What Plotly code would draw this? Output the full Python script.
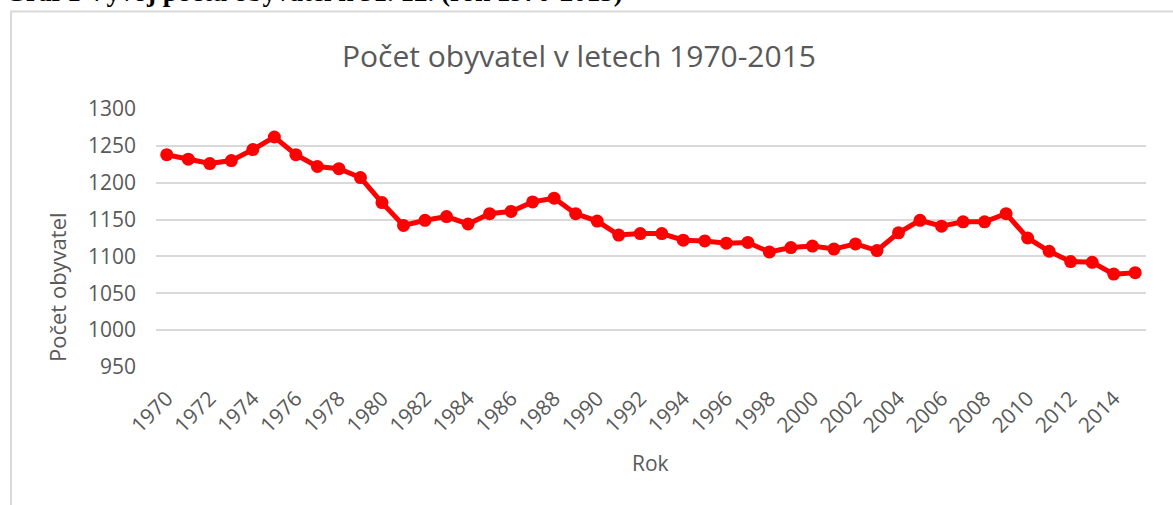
import plotly.graph_objects as go

years = list(range(1970, 2016))
population = [1238, 1232, 1226, 1230, 1245, 1262, 1238, 1222, 1219, 1207,
              1173, 1142, 1149, 1154, 1144, 1158, 1161, 1174, 1179, 1158,
              1148, 1129, 1131, 1131, 1122, 1121, 1118, 1119, 1106, 1112,
              1114, 1110, 1117, 1108, 1132, 1149, 1141, 1147, 1147, 1158,
              1125, 1107, 1093, 1092, 1076, 1078]
tick_years = list(range(1970, 2015, 2))
y_ticks = list(range(950, 1301, 50))

W, H = 1173, 505
L, R, T, B = 156, 27, 109, 138
pw, ph = W - L - R, H - T - B

def px(x):
    return (x - L) / pw

def py(y):
    return (H - B - y) / ph

grey = "#595959"
font_main = "Open Sans"

fig = go.Figure()
fig.add_trace(go.Scatter(
    x=years, y=population, mode="lines+markers",
    line=dict(color="#ff0000", width=5),
    marker=dict(color="#ff0000", size=13),
    showlegend=False,
))

fig.update_layout(
    width=W, height=H,
    margin=dict(l=L, r=R, t=T, b=B, pad=0),
    paper_bgcolor="white", plot_bgcolor="white",
    xaxis=dict(range=[1969.5, 2015.5], tickvals=tick_years,
               ticktext=[str(y) for y in tick_years], tickangle=-45,
               showgrid=False, zeroline=False, showline=False, ticks="",
               tickfont=dict(family=font_main, size=21, color=grey),
               ticklabelstandoff=14),
    yaxis=dict(range=[950, 1300], tickvals=y_ticks, showgrid=True,
               gridcolor="#d9d9d9", gridwidth=1.5, zeroline=False,
               showline=False, ticks="",
               tickfont=dict(family=font_main, size=21, color=grey),
               ticklabelstandoff=19),
    shapes=[dict(type="rect", xref="paper", yref="paper",
                 x0=px(11), x1=px(1400), y0=py(800), y1=py(11.5),
                 line=dict(color="#d9d9d9", width=2), layer="below")],
    annotations=[
        dict(text="Počet obyvatel v letech 1970-2015", xref="paper", yref="paper",
             x=px(579), y=py(55), xanchor="center", yanchor="middle",
             showarrow=False, font=dict(family=font_main, size=30, color=grey)),
        dict(text="Počet obyvatel", xref="paper", yref="paper",
             x=px(57), y=py(287), xanchor="center", yanchor="middle",
             textangle=-90, showarrow=False,
             font=dict(family=font_main, size=22, color=grey)),
        dict(text="Rok", xref="paper", yref="paper",
             x=px(650), y=py(463), xanchor="center", yanchor="middle",
             showarrow=False, font=dict(family=font_main, size=21, color=grey)),
        dict(text="<b>Graf 1 Vývoj počtu obyvatel k 31. 12. (rok 1970-2015)</b>",
             xref="paper", yref="paper", x=px(3), y=py(9),
             xanchor="left", yanchor="bottom", showarrow=False,
             font=dict(family="Liberation Serif", size=27, color="black")),
    ],
)

fig.write_html("out.html", config={"displayModeBar": False},
               post_script="document.body.style.margin='0';")
